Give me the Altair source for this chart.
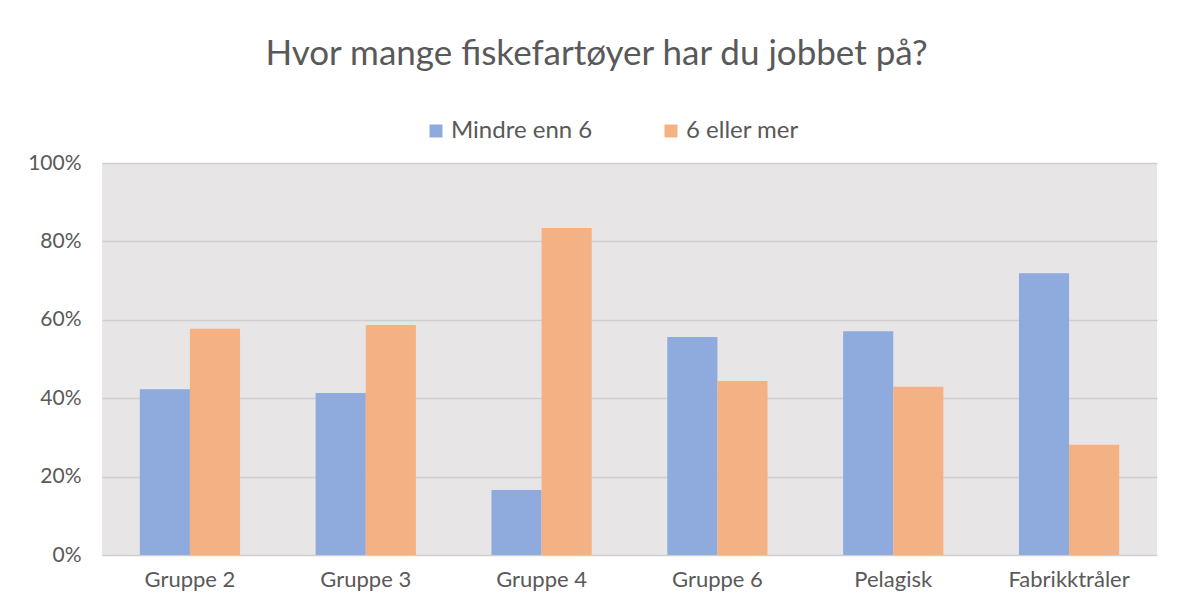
import altair as alt
import pandas as pd

categories = ["Gruppe 2", "Gruppe 3", "Gruppe 4", "Gruppe 6", "Pelagisk", "Fabrikktråler"]
series = ["Mindre enn 6", "6 eller mer"]
mindre_enn_6 = [0.423, 0.413, 0.166, 0.556, 0.571, 0.719]
seks_eller_mer = [0.577, 0.587, 0.834, 0.444, 0.429, 0.281]
colors = ["#8FAADC", "#F4B183"]

rows = []
for i, c in enumerate(categories):
    rows.append({"kategori": c, "serie": series[0], "verdi": mindre_enn_6[i]})
    rows.append({"kategori": c, "serie": series[1], "verdi": seks_eller_mer[i]})
df = pd.DataFrame(rows)

FONT = "Lato"
GREY = "#595959"

chart = alt.Chart(df).mark_bar().encode(
    x=alt.X("kategori:N", sort=categories, title=None,
            scale=alt.Scale(paddingInner=0.43, paddingOuter=0.215),
            axis=alt.Axis(labelAngle=0, domain=False, ticks=False, labelPadding=14,
                          labelFontSize=22, labelColor=GREY, labelFont=FONT)),
    xOffset=alt.XOffset("serie:N", sort=series),
    y=alt.Y("verdi:Q", title=None,
            scale=alt.Scale(domain=[0, 1]),
            axis=alt.Axis(format=".0%", values=[0, 0.2, 0.4, 0.6, 0.8, 1.0],
                          domain=False, ticks=False, labelPadding=21,
                          labelFontSize=21, labelColor=GREY, labelFont=FONT,
                          gridColor="#D0CDD0", gridWidth=1.5)),
    color=alt.Color("serie:N", sort=series,
                    scale=alt.Scale(domain=series, range=colors),
                    legend=alt.Legend(title=None, orient="none", direction="horizontal",
                                      legendX=322, legendY=-44,
                                      symbolType="square", symbolSize=169,
                                      labelFontSize=24, labelColor=GREY, labelFont=FONT,
                                      labelOffset=3,
                                      columnPadding=66, symbolStrokeWidth=0)),
).properties(
    width=1055,
    height=392,
    title=alt.TitleParams("Hvor mange fiskefartøyer har du jobbet på?",
                          fontSize=35, font=FONT, fontWeight="normal", color=GREY,
                          anchor="middle", dx=-33, offset=19, baseline="alphabetic"),
    autosize=alt.AutoSizeParams(type="none"),
    padding={"left": 94, "top": 155, "right": 27, "bottom": 50},
).configure_view(
    fill="#E7E5E6", strokeWidth=0
)

chart.save("out.html", embed_options={"renderer": "svg", "actions": False})
